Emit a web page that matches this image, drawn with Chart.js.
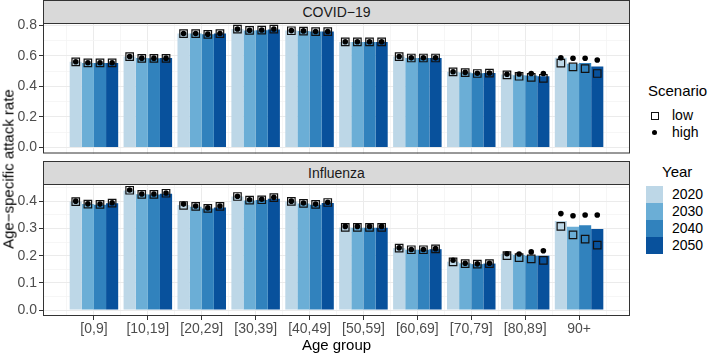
<!DOCTYPE html>
<html>
<head>
<meta charset="utf-8">
<script src="https://cdn.jsdelivr.net/npm/chart.js@4"></script>
<style>
  body { margin: 0; background: #fff; font-family: "Liberation Sans", Arial, sans-serif; }
  #wrap { position: relative; width: 708px; height: 353px; overflow: hidden; }
  #wrap canvas { position: absolute; left: 0; }
  .strip { position: absolute; left: 43px; width: 587px; height: 24px; box-sizing: border-box;
           background: #d9d9d9; border: 1px solid #333; color: #1a1a1a; font-size: 14px;
           text-align: center; line-height: 22px; }
  #ytitle { position: absolute; left: 8px; top: 169px; transform: translate(-50%, -50%) rotate(-90deg);
            white-space: nowrap; font-size: 15px; color: #000; }
  .lg-title { position: absolute; font-size: 15px; color: #000; line-height: 18px; }
  .lg-item { position: absolute; left: 646px; height: 17px; }
  .lg-item span { position: absolute; left: 26px; top: 0; line-height: 17px; font-size: 14px; color: #000; }
  .lg-key { position: absolute; left: 0; top: 0; width: 17px; height: 17px; }
</style>
</head>
<body>
<div id="wrap">
  <canvas id="covid" width="640" height="160" style="top:0"></canvas>
  <canvas id="flu" width="640" height="193" style="top:160px"></canvas>
  <div class="strip" style="top:0">COVID−19</div>
  <div class="strip" style="top:161px">Influenza</div>
  <div id="ytitle">Age−specific attack rate</div>
  <div id="legend"></div>
</div>
<script>
const ageGroups  = ['[0,9]', '[10,19]', '[20,29]', '[30,39]', '[40,49]', '[50,59]', '[60,69]', '[70,79]', '[80,89]', '90+'];
const years      = ['2020', '2030', '2040', '2050'];
const yearColors = ['#bdd7e7', '#6baed6', '#3182bd', '#08519c'];
const scenarios  = ['low', 'high'];
const covidTicks = [0, 0.2, 0.4, 0.6, 0.8];
const fluTicks   = [0, 0.1, 0.2, 0.3, 0.4];

// one row per year (2020, 2030, 2040, 2050), one value per age group
const covidRate = [
  [0.560, 0.595, 0.745, 0.775, 0.765, 0.690, 0.595, 0.495, 0.478, 0.587],
  [0.553, 0.585, 0.745, 0.765, 0.762, 0.690, 0.585, 0.490, 0.473, 0.548],
  [0.553, 0.583, 0.740, 0.767, 0.758, 0.690, 0.585, 0.485, 0.470, 0.552],
  [0.553, 0.585, 0.745, 0.772, 0.758, 0.690, 0.585, 0.487, 0.466, 0.529]
];
const covidLow = [
  [0.560, 0.594, 0.744, 0.774, 0.763, 0.690, 0.594, 0.494, 0.475, 0.552],
  [0.553, 0.583, 0.744, 0.765, 0.761, 0.690, 0.585, 0.490, 0.466, 0.527],
  [0.553, 0.583, 0.740, 0.767, 0.757, 0.690, 0.585, 0.484, 0.458, 0.516],
  [0.553, 0.583, 0.744, 0.774, 0.757, 0.690, 0.585, 0.486, 0.452, 0.484]
];
const covidHigh = [
  [0.561, 0.595, 0.745, 0.775, 0.764, 0.691, 0.595, 0.495, 0.479, 0.587],
  [0.554, 0.584, 0.745, 0.766, 0.762, 0.691, 0.586, 0.491, 0.481, 0.583],
  [0.554, 0.584, 0.741, 0.768, 0.758, 0.691, 0.586, 0.485, 0.484, 0.583],
  [0.554, 0.584, 0.745, 0.775, 0.758, 0.691, 0.586, 0.487, 0.484, 0.572]
];
const fluRate = [
  [0.400, 0.440, 0.387, 0.418, 0.400, 0.304, 0.228, 0.178, 0.207, 0.328],
  [0.390, 0.426, 0.380, 0.403, 0.392, 0.303, 0.222, 0.172, 0.203, 0.307],
  [0.388, 0.425, 0.374, 0.405, 0.388, 0.303, 0.222, 0.169, 0.200, 0.312],
  [0.393, 0.428, 0.378, 0.410, 0.394, 0.303, 0.224, 0.171, 0.200, 0.298]
];
const fluLow = [
  [0.399, 0.441, 0.385, 0.418, 0.400, 0.304, 0.228, 0.177, 0.200, 0.308],
  [0.390, 0.426, 0.382, 0.405, 0.393, 0.304, 0.222, 0.171, 0.193, 0.277],
  [0.389, 0.426, 0.374, 0.406, 0.389, 0.304, 0.222, 0.169, 0.188, 0.261],
  [0.394, 0.430, 0.382, 0.414, 0.396, 0.304, 0.225, 0.171, 0.183, 0.239]
];
const fluHigh = [
  [0.401, 0.442, 0.390, 0.419, 0.401, 0.308, 0.229, 0.183, 0.207, 0.355],
  [0.391, 0.427, 0.383, 0.406, 0.394, 0.308, 0.223, 0.172, 0.206, 0.347],
  [0.390, 0.427, 0.376, 0.408, 0.390, 0.308, 0.223, 0.170, 0.214, 0.350],
  [0.395, 0.431, 0.383, 0.415, 0.397, 0.308, 0.226, 0.172, 0.218, 0.350]
];

Chart.defaults.font.family = '"Liberation Sans", Arial, sans-serif';
Chart.defaults.font.size = 14;

const GRID_MAJOR = '#ebebeb', GRID_MINOR = '#f4f4f4', INK = '#333333', AXIS_TXT = '#4d4d4d';
const BAR_WIDTH = 0.9;

// ggplot-like 5% expansion around [0, max]
function expandRange(...sets) {
  const max = Math.max(...sets.flat(2));
  return [-0.05 * max, max * 1.05];
}
function withMinors(majors, lo, hi) {
  const step = majors[1] - majors[0];
  const out = majors.map(v => ({ value: v, major: true }));
  [majors[0] - step / 2, ...majors.map(v => v + step / 2)].forEach(v => {
    if (v > lo && v < hi) out.push({ value: v, major: false });
  });
  return out.sort((a, b) => a.value - b.value);
}
const dodge = j => (j - (years.length - 1) / 2) * BAR_WIDTH / years.length;

const xLo = -BAR_WIDTH / 2, xHi = ageGroups.length - 1 + BAR_WIDTH / 2;
const xPad = 0.05 * (xHi - xLo);
const xMajors = ageGroups.map((g, i) => i);

const panelBorder = {
  id: 'panelBorder',
  afterDraw(c) {
    const a = c.chartArea, ctx = c.ctx;
    ctx.save();
    ctx.strokeStyle = INK; ctx.lineWidth = 1;
    ctx.strokeRect(a.left + 0.5, a.top + 0.5, a.right - a.left - 1, a.bottom - a.top - 1);
    ctx.restore();
  }
};

// keep label overhang from shrinking the panel
const noOverhang = s => { s.paddingTop = 0; s.paddingBottom = 0; s.paddingLeft = 0; s.paddingRight = 0; };

function makePanel(id, rate, low, high, majors, bottom) {
  const [yLo, yHi] = expandRange(rate, low, high);
  const yTicks = withMinors(majors, yLo, yHi);
  const datasets = [];
  years.forEach((yr, j) => {
    datasets.push({
      type: 'bar', label: yr, order: 3,
      data: ageGroups.map((g, i) => ({ x: i, y: rate[j][i] })),
      backgroundColor: yearColors[j], categoryPercentage: BAR_WIDTH, barPercentage: 1
    });
  });
  years.forEach((yr, j) => {
    datasets.push({
      type: 'scatter', label: 'low ' + yr, order: 2,
      data: ageGroups.map((g, i) => ({ x: i + dodge(j), y: low[j][i] })),
      pointStyle: 'rect', pointRadius: 5.3, pointBorderWidth: 1.2,
      pointBorderColor: '#111', pointBackgroundColor: 'rgba(0,0,0,0)'
    });
    datasets.push({
      type: 'scatter', label: 'high ' + yr, order: 1,
      data: ageGroups.map((g, i) => ({ x: i + dodge(j), y: high[j][i] })),
      pointStyle: 'circle', pointRadius: 2.8, pointBorderWidth: 0,
      pointBackgroundColor: '#000'
    });
  });

  return new Chart(document.getElementById(id), {
    type: 'bar',
    data: { datasets },
    plugins: [panelBorder],
    options: {
      responsive: false, animation: false, events: [],
      layout: { padding: { left: 0, right: 10, top: bottom ? 24 : 23, bottom: bottom ? 0 : 5 } },
      plugins: { legend: { display: false }, tooltip: { enabled: false } },
      scales: {
        x: {
          type: 'linear', min: xLo - xPad, max: xHi + xPad, offset: false,
          afterBuildTicks: s => { s.ticks = xMajors.map(v => ({ value: v, major: true })); },
          afterFit: s => { s.height = bottom ? 37 : 0; noOverhang(s); },
          grid: { offset: false, color: GRID_MAJOR, lineWidth: 1, drawTicks: bottom, tickLength: 4, tickColor: INK, tickWidth: 1 },
          border: { display: false },
          ticks: { display: bottom, autoSkip: false, maxRotation: 0, padding: 1, color: AXIS_TXT,
                   callback: v => ageGroups[Math.round(v)] },
          title: { display: bottom, text: 'Age group', color: '#000', padding: 0,
                   font: { size: 15, lineHeight: 1 } }
        },
        x2: {
          type: 'linear', position: 'bottom', min: xLo - xPad, max: xHi + xPad, offset: false,
          afterBuildTicks: s => { s.ticks = xMajors.concat([-1]).map(v => ({ value: v + 0.5 })); },
          afterFit: s => { s.height = 0; noOverhang(s); },
          grid: { offset: false, color: GRID_MINOR, lineWidth: 0.8, drawTicks: false },
          border: { display: false },
          ticks: { display: false }
        },
        y: {
          type: 'linear', min: yLo, max: yHi,
          afterBuildTicks: s => { s.ticks = yTicks.map(t => ({ ...t })); },
          afterFit: s => { s.width = 43; noOverhang(s); },
          grid: {
            color: c => c.tick && c.tick.major ? GRID_MAJOR : GRID_MINOR,
            lineWidth: c => c.tick && c.tick.major ? 1 : 0.8,
            tickLength: 4, tickWidth: 1,
            tickColor: c => c.tick && c.tick.major ? INK : 'rgba(0,0,0,0)'
          },
          border: { display: false },
          ticks: { autoSkip: false, padding: 2, color: AXIS_TXT,
                   callback: (v, i, ts) => ts[i].major ? v.toFixed(1) : '' }
        }
      }
    }
  });
}

makePanel('covid', covidRate, covidLow, covidHigh, covidTicks, false);
makePanel('flu', fluRate, fluLow, fluHigh, fluTicks, true);

// legends
const lg = document.getElementById('legend');
let html = '<div class="lg-title" style="left:648px;top:82px">Scenario</div>';
scenarios.forEach((s, k) => {
  const key = s === 'low'
    ? '<div class="lg-key"><div style="position:absolute;left:4.5px;top:4.5px;width:6px;height:6px;border:1.2px solid #111"></div></div>'
    : '<div class="lg-key"><div style="position:absolute;left:5.5px;top:5.5px;width:5.6px;height:5.6px;border-radius:50%;background:#000"></div></div>';
  html += `<div class="lg-item" style="top:${107 + k * 17}px">${key}<span>${s}</span></div>`;
});
html += '<div class="lg-title" style="left:662px;top:163px">Year</div>';
years.forEach((yr, j) => {
  html += `<div class="lg-item" style="top:${186 + j * 17}px"><div class="lg-key" style="background:${yearColors[j]}"></div><span>${yr}</span></div>`;
});
lg.innerHTML = html;
</script>
</body>
</html>
